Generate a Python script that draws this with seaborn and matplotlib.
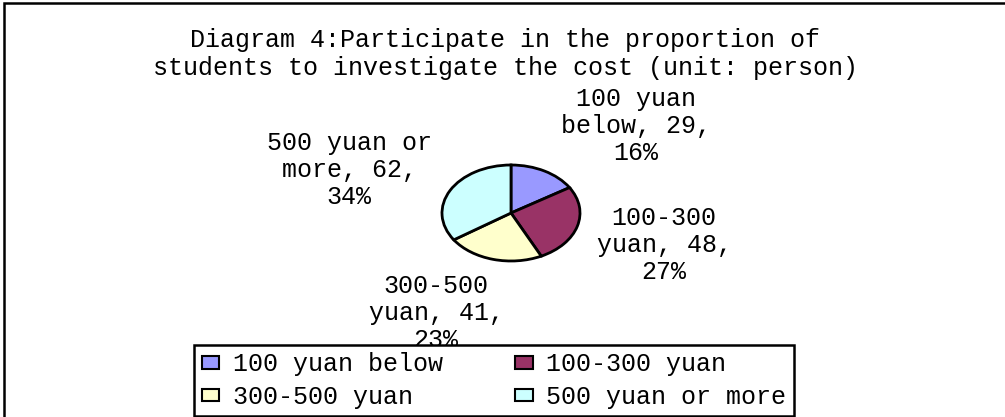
import textwrap

import matplotlib
matplotlib.use("Agg")
import matplotlib.pyplot as plt
from matplotlib.patches import Rectangle
import seaborn as sns

# ── Data ──────────────────────────────────────────────────────────────────────
categories = ["100 yuan below", "100-300 yuan", "300-500 yuan", "500 yuan or more"]
persons = [29, 48, 41, 62]
colors = ["#9999FF", "#993366", "#FFFFCC", "#CCFFFF"]
title = ("Diagram 4:Participate in the proportion of\n"
         "students to investigate the cost (unit: person)")

# label offsets from pie centre, in pixels (layout only)
label_offsets = [(125, 87), (153, -32), (-75, -100), (-162, 43)]

sns.set_style("white")
plt.rcParams["font.family"] = ["Liberation Mono", "DejaVu Sans Mono"]
plt.rcParams["text.color"] = "black"
FS = 18

W, H = 1005, 417
fig = plt.figure(figsize=(W / 100, H / 100), dpi=100)

# outer chart border (right/bottom fall outside the picture)
fig.add_artist(Rectangle((4 / W, -0.1), 1.2, 1.1 - 3 / H, transform=fig.transFigure,
                         fill=False, edgecolor="black", linewidth=1.8, clip_on=False))

# ── Pie (elliptical, like the original) ───────────────────────────────────────
px0, px1, py0, py1 = 442, 580, 165, 261
ax = fig.add_axes([px0 / W, 1 - py1 / H, (px1 - px0) / W, (py1 - py0) / H])
pal = sns.color_palette(colors)
wedges, _ = ax.pie(persons, colors=pal, startangle=90, counterclock=False,
                   wedgeprops=dict(edgecolor="black", linewidth=2))
for w in wedges:
    w.set_clip_on(False)
ax.set_aspect("auto")
ax.set_xlim(-1, 1)
ax.set_ylim(-1, 1)
ax.axis("off")

total = sum(persons)
for cat, val, (dx, dy) in zip(categories, persons, label_offsets):
    txt = f"{cat}, {val}, {round(100 * val / total)}%"
    txt = "\n".join(textwrap.wrap(txt, 11))
    ax.annotate(txt, xy=(0, 0), xytext=(dx, dy), textcoords="offset pixels",
                ha="center", va="center", fontsize=FS, linespacing=1.18,
                color="black", annotation_clip=False)

fig.text(505 / W, 1 - 54 / H, title, ha="center", va="center",
         fontsize=FS, linespacing=1.22, color="black")

# ── Legend (row-major order like the original) ────────────────────────────────
order = [0, 2, 1, 3]
leg = fig.legend([wedges[i] for i in order], [categories[i] for i in order],
                 ncol=2, loc="upper left",
                 bbox_to_anchor=(194 / W, 1 - 345 / H), fontsize=FS,
                 frameon=True, fancybox=False, framealpha=1, edgecolor="black",
                 borderpad=0.3, borderaxespad=0, handlelength=0.7,
                 handleheight=0.4, handletextpad=0.55, columnspacing=2.9,
                 labelspacing=0.33)
leg.get_frame().set_linewidth(1.8)
for h in leg.legend_handles:
    h.set_edgecolor("black")
    h.set_linewidth(1.5)
for t in leg.get_texts():
    t.set_color("black")

fig.savefig("out.png", dpi=100)
